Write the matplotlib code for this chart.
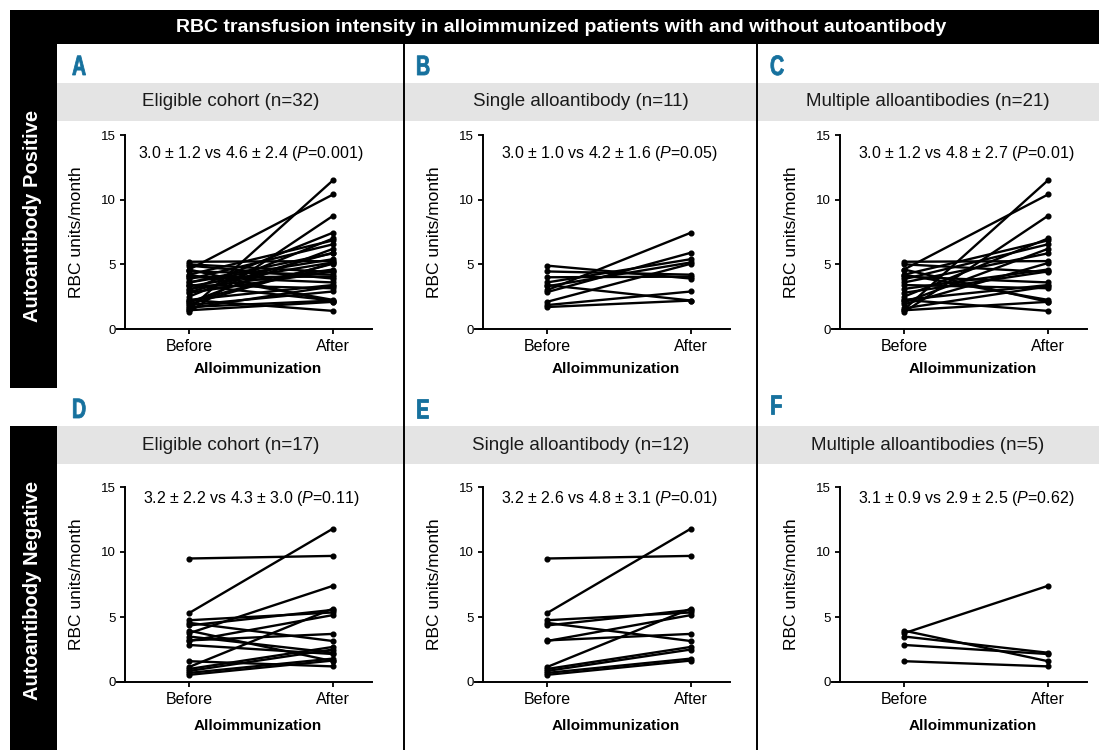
import matplotlib
matplotlib.use("Agg")
import matplotlib.pyplot as plt
from matplotlib.font_manager import FontProperties
from matplotlib.patches import Rectangle, PathPatch
from matplotlib.lines import Line2D
from matplotlib.textpath import TextPath
from matplotlib.transforms import Affine2D

plt.rcParams["font.family"] = "Liberation Sans"
plt.rcParams["mathtext.fontset"] = "custom"
plt.rcParams["mathtext.rm"] = "Liberation Sans"
plt.rcParams["mathtext.it"] = "Liberation Sans:italic"

# --- data (RBC units/month, before vs after alloimmunization) ---
# autoantibody positive, single alloantibody (n=11)
b_before = [4.9, 4.45, 4.0, 3.6, 3.4, 3.0, 2.85, 2.1, 1.85, 1.7, 3.3]
b_after = [3.9, 4.2, 4.05, 5.4, 2.2, 7.45, 5.9, 5.05, 2.9, 2.2, 5.15]
# autoantibody positive, multiple alloantibodies (n=21)
c_before = [1.5, 4.6, 1.3, 2.5, 4.2, 3.85, 2.05, 3.6, 5.2, 1.9, 3.1,
            2.8, 5.0, 4.05, 2.25, 1.6, 3.4, 4.2, 4.6, 1.45, 2.25]
c_after = [11.5, 10.4, 8.75, 7.0, 6.85, 6.55, 6.2, 5.85, 5.25, 5.1, 4.6,
           4.45, 4.4, 3.6, 3.4, 3.3, 3.15, 2.25, 2.1, 2.1, 1.4]
# autoantibody negative, single alloantibody (n=12)
e_before = [9.5, 5.3, 4.75, 4.55, 4.35, 3.2, 3.15, 1.15, 1.0, 0.85, 0.7, 0.55]
e_after = [9.7, 11.8, 5.35, 3.15, 5.55, 3.7, 5.15, 5.65, 2.7, 2.5, 1.8, 1.65]
# autoantibody negative, multiple alloantibodies (n=5)
f_before = [3.75, 3.95, 3.5, 2.85, 1.6]
f_after = [7.4, 1.6, 2.25, 2.15, 1.2]
# eligible cohorts are the two subgroups together
a_before = b_before + c_before
a_after = b_after + c_after
d_before = e_before + f_before
d_after = e_after + f_after

letters = ["A", "B", "C", "D", "E", "F"]
subtitles = ["Eligible cohort (n=32)", "Single alloantibody (n=11)",
             "Multiple alloantibodies (n=21)", "Eligible cohort (n=17)",
             "Single alloantibody (n=12)", "Multiple alloantibodies (n=5)"]
stats = ["3.0 ± 1.2 vs 4.6 ± 2.4 ($P$=0.001)", "3.0 ± 1.0 vs 4.2 ± 1.6 ($P$=0.05)",
         "3.0 ± 1.2 vs 4.8 ± 2.7 ($P$=0.01)", "3.2 ± 2.2 vs 4.3 ± 3.0 ($P$=0.11)",
         "3.2 ± 2.6 vs 4.8 ± 3.1 ($P$=0.01)", "3.1 ± 0.9 vs 2.9 ± 2.5 ($P$=0.62)"]
befores = [a_before, b_before, c_before, d_before, e_before, f_before]
afters = [a_after, b_after, c_after, d_after, e_after, f_after]
row_names = ["Autoantibody Positive", "Autoantibody Negative"]

W, H = 1099, 750
fig = plt.figure(figsize=(W / 100, H / 100), dpi=100)


def rect(x0, y0, x1, y1, color):
    # rectangle given in pixel coords (origin top-left)
    fig.add_artist(Rectangle((x0 / W, 1 - y1 / H), (x1 - x0) / W, (y1 - y0) / H,
                             transform=fig.transFigure, facecolor=color,
                             edgecolor="none", zorder=0))


def ftext(x, y, s, **kw):
    fig.text(x / W, 1 - y / H, s, **kw)


def narrow_letter(x, baseline, s):
    # condensed bold panel letter, drawn as a squeezed text path (pixel units)
    tp = TextPath((0, 0), s, size=28, prop=FontProperties(family="Liberation Sans", weight="bold"))
    tr = Affine2D().scale(0.7 / W, 1 / H).translate(x / W, 1 - baseline / H) + fig.transFigure
    fig.add_artist(PathPatch(tp, transform=tr, facecolor="#16719e", edgecolor="#16719e",
                             lw=0.6))


# frame: header, side bars, grey strips
rect(10, 10, W, 44, "black")
rect(10, 10, 57, 388, "black")
rect(10, 426, 57, H, "black")
rect(57, 83, W, 121, "#e4e4e4")
rect(57, 426, W, 464, "#e4e4e4")
for xd in [404, 757]:
    fig.add_artist(Line2D([xd / W, xd / W], [1 - 44 / H, 0], transform=fig.transFigure,
                          color="black", lw=1.4))

ftext(561, 27, "RBC transfusion intensity in alloimmunized patients with and without autoantibody",
      color="white", fontsize=14, fontweight="bold", ha="center", va="center")
ftext(33, 216, row_names[0], color="white", fontsize=14.5, fontweight="bold",
      rotation=90, ha="center", va="center")
ftext(33, 590, row_names[1], color="white", fontsize=14.5, fontweight="bold",
      rotation=90, ha="center", va="center")

col_centers = [230.5, 580.5, 928]
col_letter_x = [72, 416, 770]
yaxis_px = [125, 483, 840]
row_strip_y = [102, 445]
row_axis = [(135, 329), (487, 682)]
row_stat_y = [13.6, 14.1]
row_xlabel_off = [29, 32]

for i in range(6):
    r, c = divmod(i, 3)
    base = [75, 418][r] - (4 if letters[i] == "F" else 0)
    narrow_letter(col_letter_x[c], base, letters[i])
    ftext(col_centers[c], row_strip_y[r], subtitles[i], fontsize=13.5,
          ha="center", va="center", color="#1a1a1a")

    top, bot = row_axis[r]
    xa = yaxis_px[c]
    left, right = xa - 8, xa + 247
    ax = fig.add_axes([left / W, 1 - bot / H, (right - left) / W, (bot - top) / H])
    ax.set_facecolor("none")
    # before at xa+64, after at xa+208 -> 144 px per unit
    ax.set_xlim(-72 / 144, 183 / 144)
    ax.set_ylim(0, 15)
    for j in range(len(befores[i])):
        ax.plot([0, 1], [befores[i][j], afters[i][j]], color="black", lw=1.7,
                marker="o", markersize=3.4, clip_on=False)
    for s in ["top", "right"]:
        ax.spines[s].set_visible(False)
    ax.spines["left"].set_position(("data", -64 / 144))
    ax.spines["left"].set_linewidth(1.4)
    ax.spines["bottom"].set_linewidth(1.4)
    ax.set_yticks([0, 5, 10, 15])
    ax.set_xticks([0, 1])
    ax.set_xticklabels(["Before", "After"])
    ax.tick_params(axis="y", direction="out", length=3.5, width=1.3, pad=3, labelsize=9.5)
    ax.tick_params(axis="x", direction="out", length=3.5, width=1.3, pad=4, labelsize=11.5)
    ax.text(0.43, row_stat_y[r], stats[i], ha="center", va="center", fontsize=11.5)
    ax.annotate("RBC units/month", xy=(-64 / 144, 0.5), xycoords=("data", "axes fraction"),
                xytext=(-35, 0), textcoords="offset points", rotation=90,
                ha="center", va="center", fontsize=12.5)
    ax.annotate("Alloimmunization", xy=(0.48, 0), xycoords=("data", "axes fraction"),
                xytext=(0, -row_xlabel_off[r]), textcoords="offset points",
                ha="center", va="center", fontsize=11, fontweight="bold")

fig.savefig("out.png", dpi=100)
